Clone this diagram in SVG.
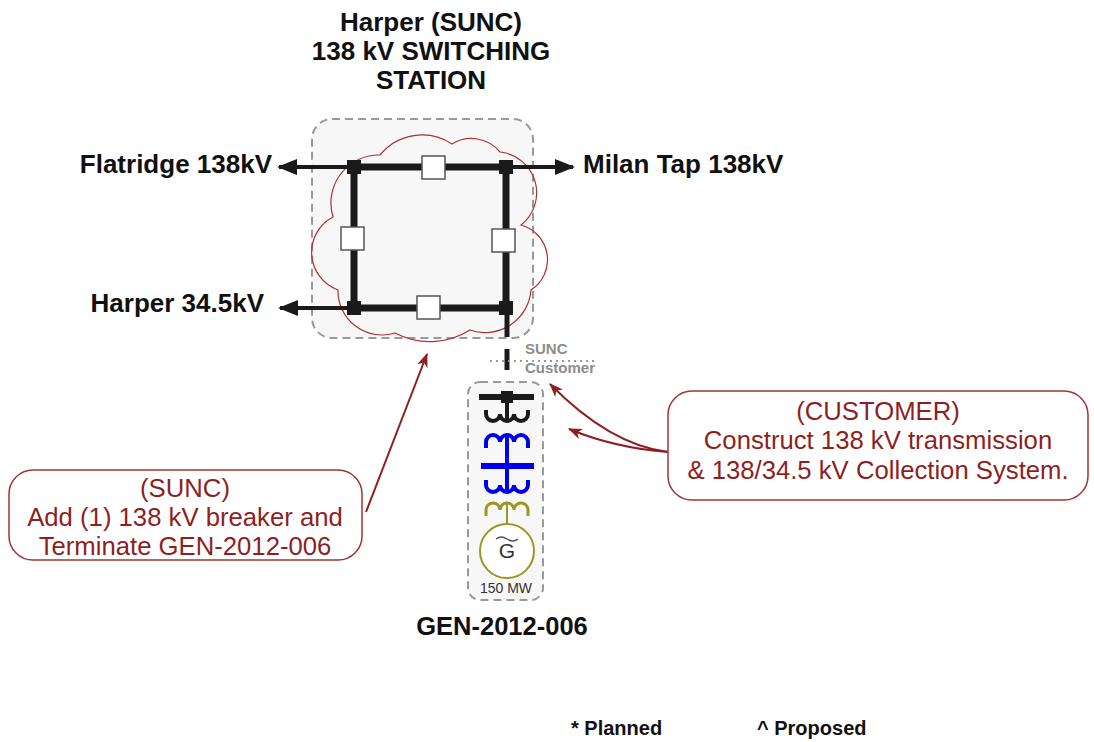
<svg xmlns="http://www.w3.org/2000/svg" width="1094" height="742" viewBox="0 0 1094 742">
<defs>
<style>
.t{font-family:"Liberation Sans",Arial,sans-serif;}
.b{font-weight:bold;fill:#111;font-size:26px;}
.c{fill:#8e1f1f;font-size:25.7px;text-anchor:middle;}
.bus{stroke:#1a1a1a;stroke-width:7;fill:none;}
.feed{stroke:#1a1a1a;stroke-width:4;fill:none;}
.brk{fill:#fff;stroke:#555;stroke-width:1.5;}
.jn{fill:#1a1a1a;}
.box{fill:#f7f7f7;stroke:#999;stroke-width:2;stroke-dasharray:8 5;}
.call{fill:#fff;stroke:#a03535;stroke-width:1.5;}
.lead{stroke:#8e1f1f;stroke-width:2;fill:none;marker-end:url(#ah);}
.wb{stroke:#1a1a1a;stroke-width:4;fill:none;}
.wbl{stroke:#0000ee;stroke-width:4;fill:none;}
.wol{stroke:#999922;stroke-width:3;fill:none;}
</style>
<marker id="arr" viewBox="0 0 20 16" refX="18" refY="8" markerWidth="20" markerHeight="16" orient="auto" markerUnits="userSpaceOnUse">
<path d="M0,0 L20,8 L0,16 z" fill="#1a1a1a"/>
</marker>
<marker id="ah" viewBox="0 0 14 12" refX="13" refY="6" markerWidth="14" markerHeight="12" orient="auto" markerUnits="userSpaceOnUse">
<path d="M0,0.5 L14,6 L0,11.5 L4,6 z" fill="#8e1f1f"/>
</marker>
</defs>
<rect width="1094" height="742" fill="#fff"/>

<g id="title" class="t b" text-anchor="middle">
<text x="431" y="31">Harper (SUNC)</text>
<text x="431" y="60">138 kV SWITCHING</text>
<text x="431" y="89">STATION</text>
</g>

<g id="station">
<rect class="box" x="312" y="119" width="221" height="219" rx="20"/>
<path d="M333,217 A48,48 0 0 1 380,155 A54,54 0 0 1 452,144 A37,37 0 0 1 500,152 A41,41 0 0 1 521,225 A36,36 0 0 1 531,290 A46,46 0 0 1 470,330 A75,75 0 0 1 395,333 A44,44 0 0 1 338,290 A40,40 0 0 1 333,217 Z" fill="none" stroke="#b03030" stroke-width="1.2"/>
</g>

<g id="connectors">
<line class="feed" x1="354" y1="167" x2="279" y2="167" marker-end="url(#arr)"/>
<line class="feed" x1="506" y1="167" x2="573" y2="167" marker-end="url(#arr)"/>
<line class="feed" x1="354" y1="308" x2="280" y2="308" marker-end="url(#arr)"/>
<line x1="507" y1="308" x2="507" y2="337" stroke="#1a1a1a" stroke-width="5"/>
<line x1="507" y1="349" x2="507" y2="370" stroke="#1a1a1a" stroke-width="5"/>
<line x1="507" y1="382" x2="507" y2="397" stroke="#1a1a1a" stroke-width="5"/>
<line x1="490" y1="361" x2="598" y2="361" stroke="#999" stroke-width="2" stroke-dasharray="2 4"/>
<line class="lead" x1="366" y1="512" x2="427" y2="354"/>
<path class="lead" d="M668,452 Q610,445 550,384"/>
<path class="lead" d="M668,452 Q615,448 569,429"/>
</g>

<g id="ring">
<path class="bus" d="M354,167 H506 V308 H354 Z"/>
<rect class="jn" x="347" y="160" width="14" height="14"/>
<rect class="jn" x="499" y="160" width="14" height="14"/>
<rect class="jn" x="347" y="301" width="14" height="14"/>
<rect class="jn" x="499" y="301" width="14" height="14"/>
</g>

<g id="breaker-top"><rect class="brk" x="422" y="156" width="23" height="23"/></g>
<g id="breaker-left"><rect class="brk" x="341" y="227" width="23" height="23"/></g>
<g id="breaker-right"><rect class="brk" x="492" y="229" width="23" height="23"/></g>
<g id="breaker-bottom"><rect class="brk" x="417" y="296" width="23" height="23"/></g>

<g id="feeder-labels" class="t b">
<text x="272" y="173" text-anchor="end">Flatridge 138kV</text>
<text x="583" y="173">Milan Tap 138kV</text>
<text x="264" y="312" text-anchor="end">Harper 34.5kV</text>
</g>

<g id="boundary" class="t" font-weight="bold" font-size="15" fill="#8c8c8c">
<text x="525" y="354">SUNC</text>
<text x="525" y="373">Customer</text>
</g>

<g id="generator">
<rect class="box" x="468" y="382" width="75" height="218" rx="12"/>
<line x1="479" y1="397" x2="534" y2="397" stroke="#1a1a1a" stroke-width="6"/>
<rect class="jn" x="501" y="391" width="12" height="12"/>
<line x1="507" y1="397" x2="507" y2="421" class="wb"/>
<path class="wb" d="M486,410 v4 a7,7 0 0 0 14,0 a7,7 0 0 0 14,0 a7,7 0 0 0 14,0 v-4"/>
<path class="wbl" d="M486,448 v-6 a7,7 0 0 1 14,0 a7,7 0 0 1 14,0 a7,7 0 0 1 14,0 v6"/>
<line x1="507" y1="435" x2="507" y2="492" class="wbl"/>
<line x1="481" y1="466" x2="534" y2="466" stroke="#0000ee" stroke-width="6"/>
<path class="wbl" d="M486,480 v5 a7,7 0 0 0 14,0 a7,7 0 0 0 14,0 a7,7 0 0 0 14,0 v-5"/>
<path class="wol" d="M486,516 v-6 a7,7 0 0 1 14,0 a7,7 0 0 1 14,0 a7,7 0 0 1 14,0 v6"/>
<line x1="507" y1="503" x2="507" y2="524" stroke="#999922" stroke-width="2"/>
<circle cx="507" cy="551" r="27" fill="#fff" stroke="#999922" stroke-width="2"/>
<path d="M496,539 q5,-4 11,0 t11,0" fill="none" stroke="#555" stroke-width="1.5"/>
<text x="507" y="558" class="t" font-size="21" fill="#333" text-anchor="middle">G</text>
<text x="506" y="593" class="t" font-size="14" fill="#333" text-anchor="middle">150 MW</text>
</g>

<g id="gen-label" class="t b"><text x="502" y="635" text-anchor="middle" font-size="25.5">GEN-2012-006</text></g>

<g id="callout-sunc">
<rect class="call" x="9" y="470" width="353" height="90" rx="24"/>
<text class="t c" x="185" y="497">(SUNC)</text>
<text class="t c" x="185" y="526">Add (1) 138 kV breaker and</text>
<text class="t c" x="185" y="555">Terminate GEN-2012-006</text>
</g>

<g id="callout-customer">
<rect class="call" x="668" y="391" width="420" height="109" rx="24"/>
<text class="t c" x="878" y="420">(CUSTOMER)</text>
<text class="t c" x="878" y="449">Construct 138 kV transmission</text>
<text class="t c" x="878" y="479">&amp; 138/34.5 kV Collection System.</text>
</g>

<g id="legend" class="t" font-weight="bold" font-size="20" fill="#111">
<text x="571" y="735">* Planned</text>
<text x="757" y="735">^ Proposed</text>
</g>
</svg>
